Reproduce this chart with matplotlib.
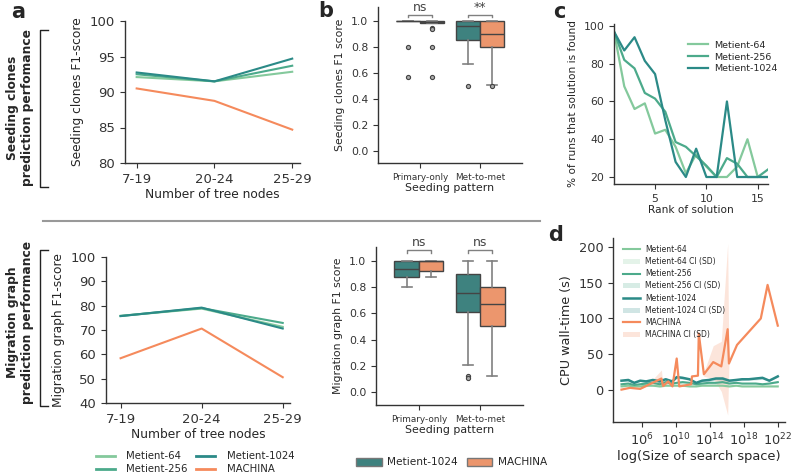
import numpy as np
import matplotlib
matplotlib.use("Agg")
import matplotlib.pyplot as plt
from matplotlib.lines import Line2D
from matplotlib.patches import Patch

W, H = 791, 474

# colours
c64 = '#84c99c'
c256 = '#4caa8b'
c1024 = '#2b8a87'
cmach = '#f58a5c'
box_teal = '#3e827f'
box_orange = '#ec966d'

# panel a
node_bins = ['7-19', '20-24', '25-29']
seed_f1_64 = [92.1, 91.5, 92.85]
seed_f1_256 = [92.5, 91.5, 93.7]
seed_f1_1024 = [92.75, 91.5, 94.7]
seed_f1_mach = [90.5, 88.75, 84.7]

mig_f1_64 = [75.8, 78.8, 71.3]
mig_f1_256 = [75.8, 79.0, 72.9]
mig_f1_1024 = [75.7, 79.2, 70.6]
mig_f1_mach = [58.4, 70.6, 50.6]

# panel b (box stats: q1, med, q3, whislo, whishi, fliers)
patterns = ['Primary-only', 'Met-to-met']
seed_box_1024 = [(1.0, 1.0, 1.0, 1.0, 1.0, [0.8, 0.57]),
                 (0.855, 0.96, 1.0, 0.67, 1.0, [0.5])]
seed_box_mach = [(0.985, 0.99, 1.0, 0.985, 1.0, [0.95, 0.94, 0.8, 0.57]),
                 (0.8, 0.9, 1.0, 0.51, 1.0, [0.5])]
mig_box_1024 = [(0.875, 0.94, 1.0, 0.8, 1.0, []),
                (0.61, 0.755, 0.9, 0.205, 1.0, [0.125, 0.11])]
mig_box_mach = [(0.925, 1.0, 1.0, 0.875, 1.0, []),
                (0.5, 0.67, 0.805, 0.125, 1.0, [])]
seed_sig = ['ns', '**']
mig_sig = ['ns', 'ns']

# panel c
ranks = list(range(1, 17))
found_64 = [97, 68, 56, 59, 43, 45, 36, 22, 32, 25.5, 20, 20, 25.5, 40, 20, 20]
found_256 = [97, 82, 77.5, 64.5, 61.5, 54.5, 38.5, 36, 31, 26, 20, 30, 27, 20, 20, 24]
found_1024 = [97, 87, 94, 81.5, 74.5, 50, 28, 20, 35, 20, 20, 60, 20, 20, 20, 20]

# panel d
met_exp = [3.6, 4.4, 5.1, 5.8, 6.5, 7.3, 8.1, 8.8, 9.6, 10.1, 10.8, 11.6, 12.4,
           13.1, 13.9, 14.7, 15.5, 16.3, 17.1, 17.8, 18.6, 19.4, 20.2, 21.0, 22.0]
time_1024 = [13, 14, 10, 13, 12, 14, 12, 15, 12, 18, 17, 15, 10, 13, 14, 16, 16,
             13, 14, 15, 15, 16, 17, 13, 19]
sd_1024 = [1, 2, 1, 1, 2, 1, 2, 2, 1, 2, 2, 1, 1, 2, 2, 2, 3, 2, 1, 2, 1, 2, 2, 1, 1]
time_256 = [8, 9, 7, 8, 9, 10, 8, 11, 9, 10, 11, 10, 8, 9, 10, 10, 11, 9, 10, 9,
            9, 9, 8, 9, 11]
sd_256 = [1, 1, 1, 1, 2, 1, 1, 2, 1, 1, 2, 1, 1, 1, 2, 2, 2, 1, 1, 1, 1, 1, 1, 1, 1]
time_64 = [5, 6, 5, 5, 6, 6, 5, 6, 6, 6, 6, 5, 5, 6, 6, 6, 6, 5, 6, 5, 5, 5, 5, 5, 5]
sd_64 = [1, 1, 1, 1, 1, 1, 1, 1, 1, 1, 1, 1, 1, 1, 1, 1, 1, 1, 1, 1, 1, 1, 1, 1, 1]
mach_exp = [3.6, 4.6, 5.8, 6.9, 8.3, 8.5, 9.1, 9.6, 10.1, 10.4, 11.8, 11.9, 12.6,
            12.7, 13.3, 14.4, 15.35, 16.1, 16.25, 17.2, 20.0, 20.8, 22.0]
time_mach = [0.5, 3, 1.5, 8, 16, 5.5, 12, 5, 44, 5, 8, 19, 20, 79, 22, 39, 33, 85,
             37, 63, 100, 147, 90]
sd_mach = [0, 0, 0, 2, 12, 0, 3, 0, 0, 0, 0, 0, 0, 0, 3, 23, 35, 120, 0, 0, 0, 0, 0]

plt.rcParams.update({
    'font.family': 'DejaVu Sans',
    'axes.edgecolor': '#333333',
    'axes.labelcolor': '#262626',
    'xtick.color': '#333333',
    'ytick.color': '#333333',
    'text.color': '#262626',
    'axes.linewidth': 1.0,
    'xtick.major.size': 3.5,
    'ytick.major.size': 3.5,
})


def box(l, t, r, b):
    return [l / W, 1 - b / H, (r - l) / W, (b - t) / H]


def fx(x):
    return x / W


def fy(y):
    return 1 - y / H


def despine(ax):
    ax.spines['top'].set_visible(False)
    ax.spines['right'].set_visible(False)


fig = plt.figure(figsize=(W / 100, H / 100), dpi=100)

# ---- panel a ----
ax_a1 = fig.add_axes(box(125, 21, 300, 163))
ax_a2 = fig.add_axes(box(106, 257, 290, 403))
x = np.arange(len(node_bins))
for ax, series in [(ax_a1, [seed_f1_64, seed_f1_256, seed_f1_1024, seed_f1_mach]),
                   (ax_a2, [mig_f1_64, mig_f1_256, mig_f1_1024, mig_f1_mach])]:
    for vals, col in zip(series, [c64, c256, c1024, cmach]):
        ax.plot(x, vals, color=col, lw=1.5)
    ax.set_xticks(x)
    ax.set_xticklabels(node_bins)
    ax.tick_params(labelsize=9.5)
    ax.set_xlabel('Number of tree nodes', fontsize=8.8, labelpad=2)
    despine(ax)
ax_a1.set_ylim(80, 100)
ax_a1.set_yticks([80, 85, 90, 95, 100])
ax_a1.set_xlim(-0.15, 2.1)
ax_a1.set_ylabel('Seeding clones F1-score', fontsize=8.8)
ax_a2.set_ylim(40, 100)
ax_a2.set_yticks(range(40, 101, 10))
ax_a2.set_xlim(-0.18, 2.09)
ax_a2.set_ylabel('Migration graph F1-score', fontsize=8.8)

leg_handles = [Line2D([], [], color=c, lw=2) for c in [c64, c256, c1024, cmach]]
fig.legend(leg_handles, ['Metient-64', 'Metient-256', 'Metient-1024', 'MACHINA'],
           ncol=2, frameon=False, fontsize=7.3, loc='upper left',
           bbox_to_anchor=(fx(91), fy(446)), borderpad=0, handlelength=1.9,
           columnspacing=0.8, labelspacing=0.3, handletextpad=1.1)


# ---- panel b ----
def draw_boxes(ax, stats_t, stats_o, sig, ybr, ytk):
    for i in range(len(patterns)):
        for st, col, off in [(stats_t[i], box_teal, -0.2), (stats_o[i], box_orange, 0.2)]:
            q1, med, q3, lo, hi, fl = st
            d = dict(q1=q1, med=med, q3=q3, whislo=lo, whishi=hi, fliers=fl)
            ax.bxp([d], positions=[i + off], widths=0.4, capwidths=0.16,
                   patch_artist=True, manage_ticks=False,
                   boxprops=dict(facecolor=col, edgecolor='#444444', lw=1),
                   medianprops=dict(color='#444444', lw=1),
                   whiskerprops=dict(color='#808080', lw=1.2),
                   capprops=dict(color='#808080', lw=1.2),
                   flierprops=dict(marker='o', ms=3, mfc='#aaaaaa', mec='#444444', mew=0.8))
        ax.plot([i - 0.2, i - 0.2, i + 0.2, i + 0.2], [ytk, ybr, ybr, ytk],
                color='#808080', lw=1, clip_on=False)
        ax.text(i, ybr + 0.005, sig[i], ha='center', va='bottom', fontsize=9,
                color='#444444', clip_on=False)
    ax.set_xticks(range(len(patterns)))
    ax.set_xticklabels(patterns, fontsize=6.4)
    ax.set_yticks(np.arange(0, 1.01, 0.2))
    ax.set_yticklabels(['%.1f' % v for v in np.arange(0, 1.01, 0.2)], fontsize=7.8)
    ax.set_xlim(-0.7, 1.7)
    ax.set_xlabel('Seeding pattern', fontsize=7.9, labelpad=1)
    despine(ax)


ax_b1 = fig.add_axes(box(378, 7, 522, 163))
ax_b1.set_ylim(-0.092, 1.108)
draw_boxes(ax_b1, seed_box_1024, seed_box_mach, seed_sig, 1.046, 1.03)
ax_b1.set_ylabel('Seeding clones F1 score', fontsize=7.8)

ax_b2 = fig.add_axes(box(376, 247, 523, 405))
ax_b2.set_ylim(-0.1, 1.107)
draw_boxes(ax_b2, mig_box_1024, mig_box_mach, mig_sig, 1.084, 1.063)
ax_b2.set_ylabel('Migration graph F1 score', fontsize=7.8)

fig.legend([Patch(facecolor=box_teal, edgecolor='#777777'),
            Patch(facecolor=box_orange, edgecolor='#777777')],
           ['Metient-1024', 'MACHINA'], ncol=2, frameon=False, fontsize=7.6,
           loc='upper left', bbox_to_anchor=(fx(351), fy(452)), borderpad=0,
           handlelength=2.4, handleheight=0.8, handletextpad=0.55, columnspacing=0.85)

# ---- panel c ----
ax_c = fig.add_axes(box(614, 24, 768, 184))
ax_c.plot(ranks, found_64, color=c64, lw=1.6, label='Metient-64')
ax_c.plot(ranks, found_256, color=c256, lw=1.6, label='Metient-256')
ax_c.plot(ranks, found_1024, color=c1024, lw=1.6, label='Metient-1024')
ax_c.set_xlim(1, 16)
ax_c.set_ylim(16.3, 101)
ax_c.set_xticks([5, 10, 15])
ax_c.set_yticks([20, 40, 60, 80, 100])
ax_c.tick_params(labelsize=7.8)
ax_c.set_xlabel('Rank of solution', fontsize=7.6, labelpad=1)
ax_c.set_ylabel('% of runs that solution is found', fontsize=7.6)
ax_c.legend(frameon=False, fontsize=6.8, loc='upper left',
            bbox_to_anchor=(fx(683), fy(36)), bbox_transform=fig.transFigure,
            borderpad=0, handlelength=2.1, handletextpad=0.65, labelspacing=0.3)
despine(ax_c)

# ---- panel d ----
ax_d = fig.add_axes(box(613, 238, 785, 422))
handles = []
labels = []
for ex, vals, sd, col, name, lw in [
        (met_exp, time_64, sd_64, c64, 'Metient-64', 1.5),
        (met_exp, time_256, sd_256, c256, 'Metient-256', 1.5),
        (met_exp, time_1024, sd_1024, c1024, 'Metient-1024', 1.8),
        (mach_exp, time_mach, sd_mach, cmach, 'MACHINA', 1.6)]:
    xs = 10.0 ** np.array(ex)
    v = np.array(vals, dtype=float)
    s = np.array(sd, dtype=float)
    ln, = ax_d.plot(xs, v, color=col, lw=lw)
    fb = ax_d.fill_between(xs, v - s, v + s, color=col, alpha=0.22, lw=0)
    handles += [ln, fb]
    labels += [name, name + ' CI (SD)']
ax_d.set_xscale('log')
ax_d.set_xlim(10 ** 2.6, 10 ** 22.85)
ax_d.set_xticks([1e6, 1e10, 1e14, 1e18, 1e22])
ax_d.xaxis.set_minor_locator(matplotlib.ticker.NullLocator())
ax_d.set_ylim(-44.8, 212.6)
ax_d.set_yticks([0, 50, 100, 150, 200])
ax_d.tick_params(labelsize=9.3)
ax_d.set_xlabel('log(Size of search space)', fontsize=9.4, labelpad=1)
ax_d.set_ylabel('CPU wall-time (s)', fontsize=9.2)
ax_d.legend(handles, labels, frameon=False, fontsize=5.5, loc='upper left',
            bbox_to_anchor=(fx(619), fy(241)), bbox_transform=fig.transFigure,
            borderpad=0, handlelength=2.3, handletextpad=0.6, labelspacing=0.42)
despine(ax_d)

# ---- panel letters, side labels, brackets ----
for txt, xp, yp in [('a', 18, 12), ('b', 326, 11), ('c', 559, 12), ('d', 556, 235)]:
    fig.text(fx(xp), fy(yp), txt, fontsize=15, fontweight='bold', ha='center', va='center')

fig.text(fx(20), fy(108), 'Seeding clones\nprediction perfomance', rotation=90,
         fontsize=8.8, fontweight='bold', ha='center', va='center', linespacing=1.15)
fig.text(fx(20), fy(322), 'Migration graph\nprediction performance', rotation=90,
         fontsize=8.8, fontweight='bold', ha='center', va='center', linespacing=1.15)

for top, bot in [(30, 187), (250, 406)]:
    fig.add_artist(Line2D([fx(48), fx(40), fx(40), fx(48)],
                          [fy(top), fy(top), fy(bot), fy(bot)],
                          color='#222222', lw=1))
fig.add_artist(Line2D([fx(43), fx(540)], [fy(221), fy(221)], color='#999999', lw=1.5))

fig.savefig('out.png', dpi=100)
